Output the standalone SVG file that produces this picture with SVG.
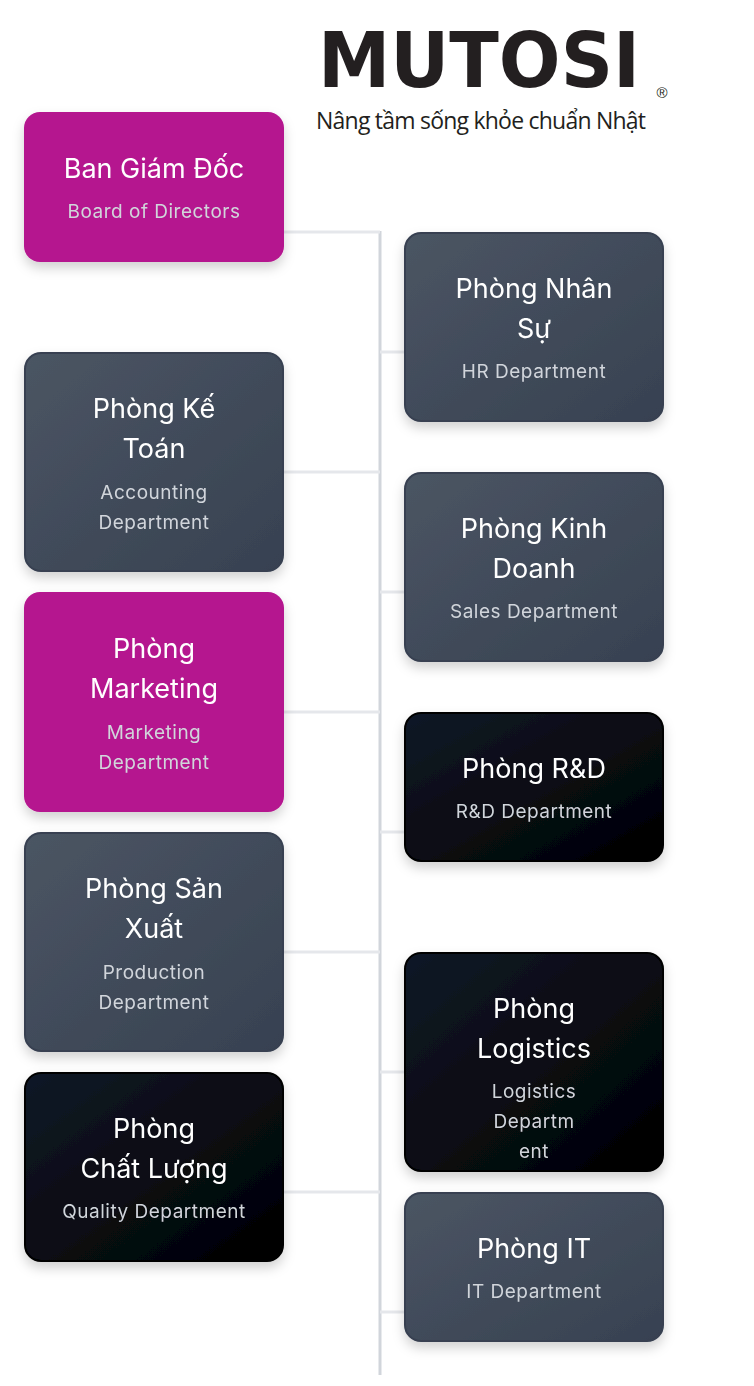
<svg xmlns="http://www.w3.org/2000/svg" width="754" height="1386" viewBox="0 0 754 1386">
<defs>
<linearGradient id="gGray" x1="0" y1="0" x2="1" y2="1"><stop offset="0" stop-color="#4b5563"/><stop offset="1" stop-color="#374151"/></linearGradient>
<linearGradient id="gDark" x1="0" y1="0" x2="1" y2="1"><stop offset="0" stop-color="#111827"/><stop offset="1" stop-color="#000000"/></linearGradient>
<filter id="sh" x="-20%" y="-20%" width="140%" height="150%"><feDropShadow dx="0" dy="6" stdDeviation="6" flood-color="#000" flood-opacity="0.18"/></filter>
</defs>
<style>
.t{font-family:Inter,"Noto Sans",sans-serif;font-size:27px;fill:#fff;text-anchor:middle}
.s{font-family:Inter,"Noto Sans",sans-serif;font-size:19px;fill:#d1d5db;text-anchor:middle;letter-spacing:0.5px}
.gray{fill:url(#gGray);stroke:#374151;stroke-width:2}
.dark{fill:url(#gDark);stroke:#000;stroke-width:2}
.mag{fill:#b5198f}
.h{stroke:#e5e7eb;stroke-width:3}
</style>
<rect width="754" height="1386" fill="#fff"/>
<g id="logo">
<text x="318" y="87" font-family="'DejaVu Sans',sans-serif" font-weight="bold" font-size="76" fill="#231f20" textLength="322" lengthAdjust="spacingAndGlyphs">MUTOSI</text>
<text x="662" y="98" font-family="'Liberation Sans',sans-serif" font-size="15" fill="#231f20" text-anchor="middle">®</text>
<text x="316" y="129" font-family="'Open Sans','Noto Sans',sans-serif" font-size="23" fill="#231f20" textLength="330">Nâng tầm sống khỏe chuẩn Nhật</text>
</g>
<g id="connectors">
<line x1="380" y1="231" x2="380" y2="1375" stroke="#d1d5db" stroke-width="3"/>
<line class="h" x1="284" y1="232" x2="380" y2="232"/>
<line class="h" x1="380" y1="352" x2="404" y2="352"/>
<line class="h" x1="284" y1="472" x2="380" y2="472"/>
<line class="h" x1="380" y1="592" x2="404" y2="592"/>
<line class="h" x1="284" y1="712" x2="380" y2="712"/>
<line class="h" x1="380" y1="832" x2="404" y2="832"/>
<line class="h" x1="284" y1="952" x2="380" y2="952"/>
<line class="h" x1="380" y1="1072" x2="404" y2="1072"/>
<line class="h" x1="284" y1="1192" x2="380" y2="1192"/>
<line class="h" x1="380" y1="1312" x2="404" y2="1312"/>
</g>
<g id="bgd" filter="url(#sh)"><rect class="mag" x="24" y="112" width="260" height="150" rx="16"/>
<text class="t" x="154" y="178">Ban Giám Đốc</text><text class="s" x="154" y="218">Board of Directors</text></g>
<g id="hr" filter="url(#sh)"><rect class="gray" x="405" y="233" width="258" height="188" rx="16"/>
<text class="t" x="534" y="298">Phòng Nhân</text><text class="t" x="534" y="338">Sự</text><text class="s" x="534" y="378">HR Department</text></g>
<g id="ketoan" filter="url(#sh)"><rect class="gray" x="25" y="353" width="258" height="218" rx="16"/>
<text class="t" x="154" y="418">Phòng Kế</text><text class="t" x="154" y="458">Toán</text><text class="s" x="154" y="499">Accounting</text><text class="s" x="154" y="529">Department</text></g>
<g id="kinhdoanh" filter="url(#sh)"><rect class="gray" x="405" y="473" width="258" height="188" rx="16"/>
<text class="t" x="534" y="538">Phòng Kinh</text><text class="t" x="534" y="578">Doanh</text><text class="s" x="534" y="618">Sales Department</text></g>
<g id="marketing" filter="url(#sh)"><rect class="mag" x="24" y="592" width="260" height="220" rx="16"/>
<text class="t" x="154" y="658">Phòng</text><text class="t" x="154" y="698">Marketing</text><text class="s" x="154" y="739">Marketing</text><text class="s" x="154" y="769">Department</text></g>
<g id="rd" filter="url(#sh)"><rect class="dark" x="405" y="713" width="258" height="148" rx="16"/>
<text class="t" x="534" y="778">Phòng R&amp;D</text><text class="s" x="534" y="818">R&amp;D Department</text></g>
<g id="sanxuat" filter="url(#sh)"><rect class="gray" x="25" y="833" width="258" height="218" rx="16"/>
<text class="t" x="154" y="898">Phòng Sản</text><text class="t" x="154" y="938">Xuất</text><text class="s" x="154" y="979">Production</text><text class="s" x="154" y="1009">Department</text></g>
<g id="logistics" filter="url(#sh)"><rect class="dark" x="405" y="953" width="258" height="218" rx="16"/>
<text class="t" x="534" y="1018">Phòng</text><text class="t" x="534" y="1058">Logistics</text><text class="s" x="534" y="1098">Logistics</text><text class="s" x="534" y="1128">Departm</text><text class="s" x="534" y="1158">ent</text></g>
<g id="chatluong" filter="url(#sh)"><rect class="dark" x="25" y="1073" width="258" height="188" rx="16"/>
<text class="t" x="154" y="1138">Phòng</text><text class="t" x="154" y="1178">Chất Lượng</text><text class="s" x="154" y="1218">Quality Department</text></g>
<g id="it" filter="url(#sh)"><rect class="gray" x="405" y="1193" width="258" height="148" rx="16"/>
<text class="t" x="534" y="1258">Phòng IT</text><text class="s" x="534" y="1298">IT Department</text></g>
</svg>
